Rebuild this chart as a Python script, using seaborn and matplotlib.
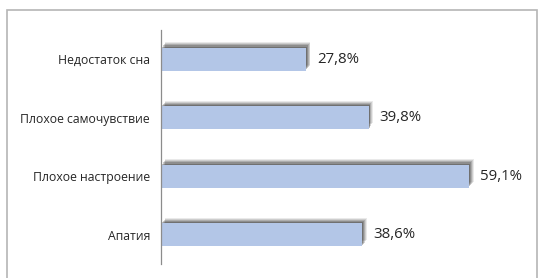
import matplotlib
matplotlib.use('Agg')
import matplotlib.pyplot as plt
import matplotlib.patheffects as pe
from matplotlib.patches import Rectangle
import pandas as pd
import seaborn as sns

categories = ['Недостаток сна', 'Плохое самочувствие', 'Плохое настроение', 'Апатия']
values = [27.8, 39.8, 59.1, 38.6]

df = pd.DataFrame({'category': categories, 'value': values})

sns.set_style('white')
plt.rcParams['font.family'] = ['Open Sans', 'DejaVu Sans']

fig = plt.figure(figsize=(5.38, 2.78), dpi=100)
ax = fig.add_axes([161 / 538, 14 / 278, 365 / 538, 234 / 278])

sns.barplot(data=df, x='value', y='category', orient='h', color='#b3c6e7',
            saturation=1, width=0.39, ax=ax)

# soft shadow up and to the right of each bar
shadow = [pe.SimplePatchShadow(offset=(o, o * 1.3), shadow_rgbFace='#303030', alpha=a)
          for o, a in [(3.2, 0.1), (2.6, 0.15), (2.0, 0.2), (1.4, 0.25), (0.7, 0.3)]]
for bar in ax.patches:
    bar.set_path_effects(shadow + [pe.Normal()])
    bar.set_edgecolor('none')

for i, v in enumerate(values):
    ax.text(v + 2.1, i, f'{v:.1f}%'.replace('.', ','), va='center', ha='left',
            fontsize=10.8, color='#262626')

ax.set_xlim(0, 70)
ax.set_ylim(3.5, -0.5)
ax.set_xlabel('')
ax.set_ylabel('')
ax.set_xticks([])
for s in ['top', 'right', 'bottom']:
    ax.spines[s].set_visible(False)
ax.spines['left'].set_color('#8c8c8c')
ax.spines['left'].set_linewidth(0.9)
ax.tick_params(axis='y', length=0, pad=8, labelsize=8.8, labelcolor='#262626')
ax.patch.set_alpha(0)

# outer chart border
fig.patches.append(Rectangle((7 / 538, -0.1), 530 / 538, 1.1 - 10 / 278,
                             transform=fig.transFigure, fill=False,
                             edgecolor='#b5b5b5', linewidth=1.2))

fig.savefig('out.png', dpi=100)
